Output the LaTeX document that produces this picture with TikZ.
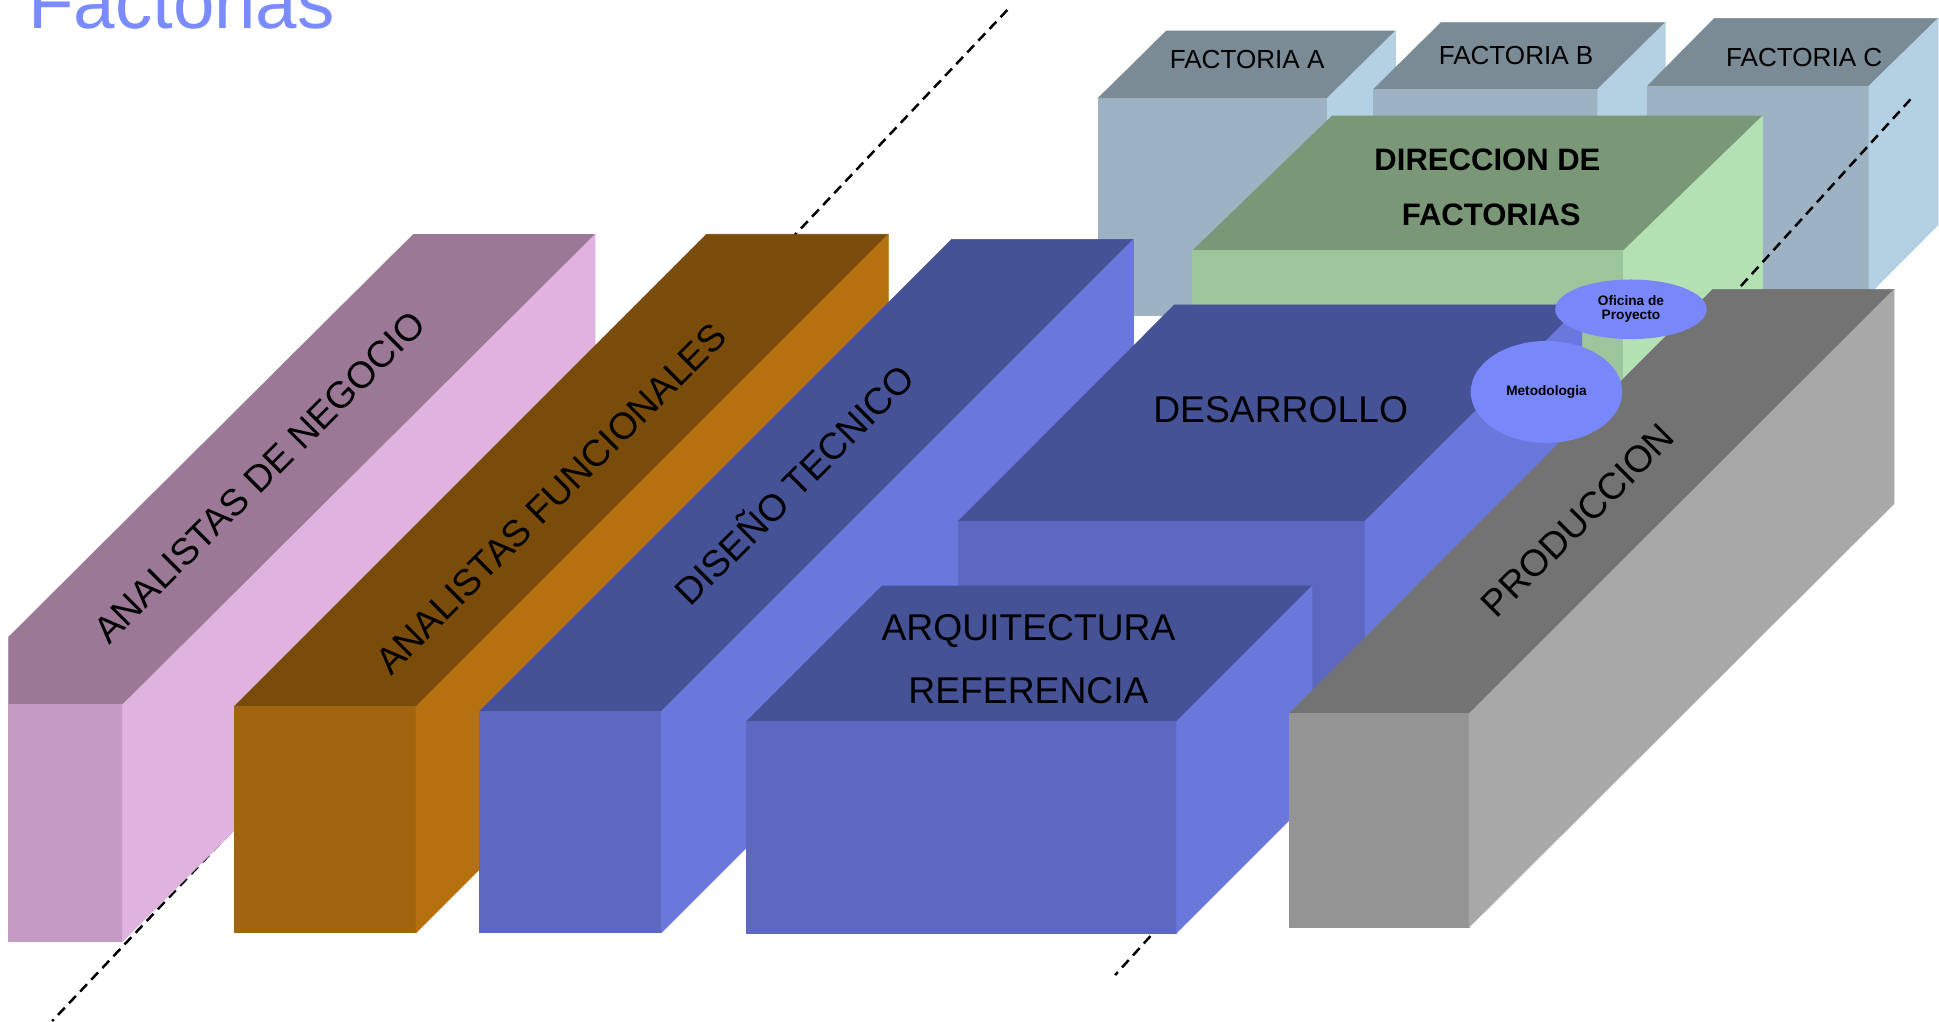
\documentclass[tikz,border=0pt]{standalone}
\usepackage{fontspec}
\setmainfont{Liberation Sans}
\usetikzlibrary{shapes.geometric}

\definecolor{rosaTop}{RGB}{154,120,150}
\definecolor{rosaFront}{RGB}{196,155,196}
\definecolor{rosaSide}{RGB}{224,178,224}
\definecolor{marronTop}{RGB}{122,76,12}
\definecolor{marronFront}{RGB}{161,100,15}
\definecolor{marronSide}{RGB}{181,112,16}
\definecolor{azulTop}{RGB}{70,82,150}
\definecolor{azulFront}{RGB}{92,104,192}
\definecolor{azulSide}{RGB}{106,120,220}
\definecolor{grisTop}{RGB}{115,115,115}
\definecolor{grisFront}{RGB}{148,148,148}
\definecolor{grisSide}{RGB}{168,168,168}
\definecolor{factTop}{RGB}{122,139,150}
\definecolor{factFront}{RGB}{157,179,196}
\definecolor{factSide}{RGB}{179,209,227}
\definecolor{dirTop}{RGB}{122,152,120}
\definecolor{dirFront}{RGB}{155,197,154}
\definecolor{dirSide}{RGB}{179,225,179}
\definecolor{burbujaAzul}{RGB}{120,136,250}
\definecolor{tituloAzul}{RGB}{122,139,255}

\begin{document}
\begin{tikzpicture}
[
    x=1pt, y=-1pt,
    face/.style={line width=0.5pt, line join=round},
    corte/.style={line width=2pt, dash pattern=on 8pt off 5pt},
    etiqueta/.style={inner sep=0pt, font=\fontsize{30}{36}\selectfont},
    diagonal/.style={etiqueta, rotate=45, anchor=center, text height=21.5pt, text depth=0pt},
    factoria/.style={inner sep=0pt, anchor=base, font=\fontsize{21}{25}\selectfont},
    direccion/.style={inner sep=0pt, anchor=base, font=\bfseries\fontsize{25}{30}\selectfont},
    burbuja/.style={ellipse, fill=burbujaAzul, inner sep=0pt, align=center,
        minimum width=122pt, font=\bfseries\fontsize{11}{11.2}\selectfont},
]
\useasboundingbox (0,0) rectangle (1561,822);

\coordinate (corte1a) at (811,8);
\coordinate (corte1b) at (42,822);
\draw[corte] (corte1a) -- (corte1b);

\filldraw[face, factTop] (883.9,79.2) -- (938.9,25) -- (1123.4,25) -- (1068.4,79.2) -- cycle;
\filldraw[face, factFront] (883.9,79.2) rectangle (1068.4,253.6);
\filldraw[face, factSide] (1068.4,79.2) -- (1123.4,25) -- (1123.4,199.4) -- (1068.4,253.6) -- cycle;
\node[factoria] (factoriaA) at (1004,55) {FACTORIA A};

\filldraw[face, factTop] (1105.8,71.9) -- (1160.1,18.2) -- (1340.6,18.2) -- (1286.3,71.9) -- cycle;
\filldraw[face, factFront] (1105.8,71.9) rectangle (1286.3,250);
\filldraw[face, factSide] (1286.3,71.9) -- (1340.6,18.2) -- (1340.6,196.3) -- (1286.3,250) -- cycle;
\node[factoria] (factoriaB) at (1220.5,51.8) {FACTORIA B};

\filldraw[face, factTop] (1326.4,69.2) -- (1380.1,14.8) -- (1560.3,14.8) -- (1504.6,69.2) -- cycle;
\filldraw[face, factFront] (1326.4,69.2) rectangle (1504.6,237);
\filldraw[face, factSide] (1504.6,69.2) -- (1560.3,14.8) -- (1560.3,181) -- (1504.6,237) -- cycle;
\node[factoria] (factoriaC) at (1452.5,53.7) {FACTORIA C};

\filldraw[face, dirTop] (960.1,201.8) -- (1072.4,93.4) -- (1419,93.4) -- (1307,201.8) -- cycle;
\filldraw[face, dirFront] (960.1,201.8) rectangle (1307,350);
\filldraw[face, dirSide] (1307,201.8) -- (1419,93.4) -- (1419,241.6) -- (1307,350) -- cycle;
\node[direccion] (direccion1) at (1197.5,137.4) {DIRECCION DE};
\node[direccion] (direccion2) at (1200.5,181.2) {FACTORIAS};

\coordinate (corte2a) at (1538,80);
\coordinate (corte2b) at (897.7,785);
\draw[corte] (corte2a) -- (corte2b);

\filldraw[face, rosaTop] (7,512.8) -- (332.7,188.8) -- (479.1,188.8) -- (98.7,567.4) -- (7,567.4) -- cycle;
\filldraw[face, rosaFront] (7,567.4) rectangle (98.7,758);
\filldraw[face, rosaSide] (98.7,567.4) -- (479.1,188.8) -- (479.1,379.3) -- (98.7,758) -- cycle;
\node[diagonal] (negocio) at (208.5,384) {ANALISTAS DE NEGOCIO};

\filldraw[face, marronTop] (188.5,568.9) -- (568.8,188.6) -- (715.2,188.6) -- (334.9,568.9) -- cycle;
\filldraw[face, marronFront] (188.5,568.9) rectangle (334.9,750.9);
\filldraw[face, marronSide] (334.9,568.9) -- (715.2,188.6) -- (715.2,370.6) -- (334.9,750.9) -- cycle;
\node[diagonal] (funcionales) at (443.3,401.2) {ANALISTAS FUNCIONALES};

\filldraw[face, azulTop] (386.2,572.7) -- (766.2,192.7) -- (912.5,192.7) -- (532.5,572.7) -- cycle;
\filldraw[face, azulFront] (386.2,572.7) rectangle (532.5,750.9);
\filldraw[face, azulSide] (532.5,572.7) -- (912.5,192.7) -- (912.5,370.9) -- (532.5,750.9) -- cycle;
\node[diagonal] (diseno) at (639.7,390.5) {DISEÑO TECNICO};

\filldraw[face, azulTop] (771.6,419.5) -- (945.5,245.5) -- (1273.5,245.5) -- (1099,419.5) -- cycle;
\filldraw[face, azulFront] (771.6,419.5) rectangle (1099,620);
\filldraw[face, azulSide] (1099,419.5) -- (1273.5,245.5) -- (1273.5,446) -- (1099,620) -- cycle;
\node[etiqueta, anchor=base] (desarrollo) at (1031,340) {DESARROLLO};

\filldraw[face, azulTop] (601,580.9) -- (710,471.8) -- (1056.2,471.8) -- (947.2,580.9) -- cycle;
\filldraw[face, azulFront] (601,580.9) rectangle (947.2,751);
\filldraw[face, azulSide] (947.2,580.9) -- (1056.2,471.8) -- (1056.2,641.9) -- (947.2,751) -- cycle;
\node[etiqueta, anchor=base] (arquitectura) at (828,516) {ARQUITECTURA};
\node[etiqueta, anchor=base] (referencia) at (828,566.5) {REFERENCIA};

\filldraw[face, grisTop] (1037.8,574.6) -- (1378.9,233) -- (1524.9,233) -- (1182.7,574.6) -- cycle;
\filldraw[face, grisFront] (1037.8,574.6) rectangle (1182.7,746.4);
\filldraw[face, grisSide] (1182.7,574.6) -- (1524.9,233) -- (1524.9,405.3) -- (1182.7,746.4) -- cycle;
\node[diagonal] (produccion) at (1270,418.5) {PRODUCCION};

\node[burbuja, minimum height=48pt] (oficina) at (1313,249) {Oficina de\\Proyecto};
\node[burbuja, minimum height=82pt] (metodologia) at (1245,315.5) {Metodologia};

\node[inner sep=0pt, anchor=base west, text=tituloAzul, font=\fontsize{60}{72}\selectfont] (titulo) at (22.4,22.8) {Factorias};
\end{tikzpicture}
\end{document}
